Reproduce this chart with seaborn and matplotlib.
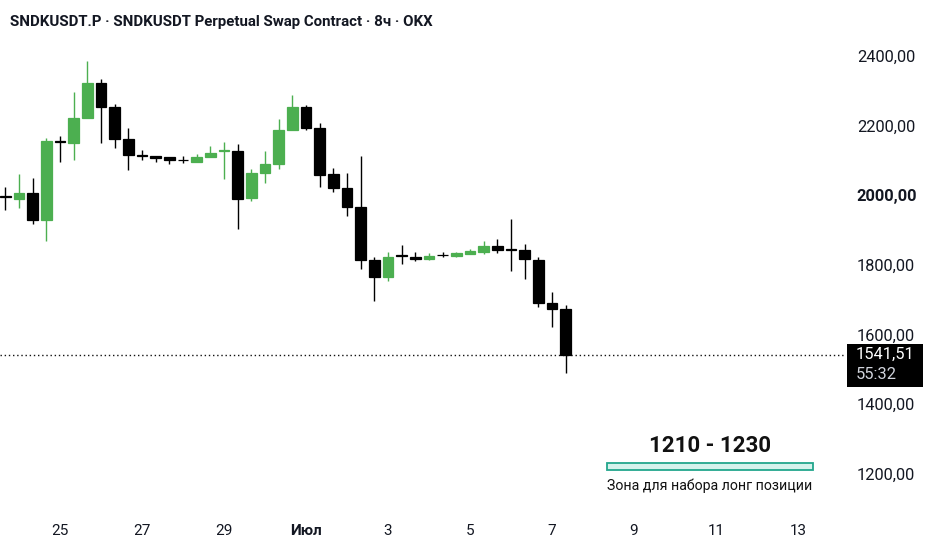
import numpy as np
import pandas as pd
import matplotlib
matplotlib.use("Agg")
import matplotlib.pyplot as plt
import matplotlib.dates as mdates
from matplotlib.patches import Rectangle
from matplotlib.transforms import blended_transform_factory
import seaborn as sns

# 8h candles, SNDKUSDT.P (OKX)
start_time = "2025-06-23 16:00"
opens = [1996, 1989, 2005, 1928, 2156, 2150, 2222, 2322, 2253, 2161, 2115, 2112, 2108, 2102,
         2095, 2109, 2126, 2126, 1992, 2063, 2089, 2188, 2252, 2193, 2059, 2019, 1965, 1814,
         1764, 1827, 1823, 1816, 1829, 1826, 1832, 1837, 1855, 1844, 1842, 1814, 1691, 1672]
highs = [2024, 2060, 2050, 2163, 2170, 2296, 2385, 2332, 2260, 2191, 2129, 2112, 2110, 2112,
         2118, 2142, 2152, 2146, 2074, 2127, 2217, 2287, 2258, 2208, 2077, 2062, 2113, 1823,
         1837, 1858, 1837, 1833, 1836, 1836, 1846, 1867, 1873, 1930, 1859, 1823, 1723, 1684]
lows = [1957, 1962, 1917, 1868, 2094, 2100, 2220, 2148, 2134, 2072, 2100, 2096, 2088, 2091,
        2094, 2109, 2047, 1902, 1983, 2035, 2074, 2188, 2188, 2022, 2008, 1941, 1787, 1696,
        1752, 1802, 1812, 1814, 1823, 1823, 1830, 1831, 1834, 1783, 1759, 1680, 1622, 1490]
closes = [1995, 2005, 1928, 2156, 2152, 2222, 2322, 2253, 2161, 2115, 2113, 2107, 2100, 2101,
          2108, 2121, 2128, 1990, 2063, 2089, 2188, 2252, 2193, 2058, 2019, 1965, 1814, 1764,
          1823, 1825, 1817, 1826, 1828, 1833, 1839, 1854, 1842, 1842, 1816, 1689, 1672, 1541.51]

last_price = 1541.51
countdown = "55:32"

tick_dates = ["2025-06-25", "2025-06-27", "2025-06-29", "2025-07-01", "2025-07-03",
              "2025-07-05", "2025-07-07", "2025-07-09", "2025-07-11", "2025-07-13"]
tick_labels = ["25", "27", "29", "Июл", "3", "5", "7", "9", "11", "13"]
price_ticks = [1200, 1400, 1600, 1800, 2000, 2200, 2400]

zone_low, zone_high = 1210, 1230
zone_start, zone_end = "2025-07-08 08:00", "2025-07-13 09:00"
zone_title = "1210 - 1230"
zone_note = "Зона для набора лонг позиции"

title = "SNDKUSDT.P · SNDKUSDT Perpetual Swap Contract · 8ч · OKX"

sns.set_style("white")
plt.rcParams["font.family"] = ["Roboto", "DejaVu Sans"]

GREEN = "#4caf50"
BLACK = "#000000"

df = pd.DataFrame({"time": pd.date_range(start_time, periods=len(opens), freq="8h"),
                   "open": opens, "high": highs, "low": lows, "close": closes})
df["x"] = mdates.date2num(df["time"])
df["up"] = df["close"] >= df["open"]
df["color"] = np.where(df["up"], GREEN, BLACK)

fig = plt.figure(figsize=(9.32, 5.5), dpi=100)
ax = fig.add_axes([0.0, 40 / 550, 845 / 932, 470 / 550])

# wicks + bodies
ax.vlines(df["x"], df["low"], df["high"], colors=df["color"], linewidth=1.0, zorder=2)
body_low = np.minimum(df["open"], df["close"])
body_h = np.abs(df["close"] - df["open"])
ax.bar(df["x"], body_h, bottom=body_low, width=0.26, color=df["color"],
       edgecolor=df["color"], linewidth=0.9, zorder=3)

# last price line
ax.axhline(last_price, color="#111111", linewidth=1.0, linestyle=(0, (1, 2)), zorder=1)

# long entry zone
zx0 = mdates.date2num(pd.Timestamp(zone_start))
zx1 = mdates.date2num(pd.Timestamp(zone_end))
ax.add_patch(Rectangle((zx0, zone_low), zx1 - zx0, zone_high - zone_low,
                       facecolor="#d5f2ec", edgecolor="#22a68c", linewidth=1.3, zorder=2))
zmid = (zx0 + zx1) / 2
ax.text(zmid, 1281, zone_title, ha="center", va="center", fontsize=16,
        fontweight="bold", color="#111111")
ax.text(zmid, 1166, zone_note, ha="center", va="center", fontsize=10.2, color="#111111")

base = mdates.date2num(pd.Timestamp("2025-06-25"))
ax.set_xlim(base - 1.463, base + 19.15)
ax.set_ylim(1096, 2445)

ax.set_xticks(mdates.date2num(pd.to_datetime(tick_dates)))
ax.set_xticklabels(tick_labels)
ax.set_yticks(price_ticks)
ax.set_yticklabels([f"{p:.2f}".replace(".", ",") for p in price_ticks])
ax.yaxis.tick_right()
ax.tick_params(axis="y", length=0, pad=8.5, labelsize=11.8, labelcolor="#131722")
ax.tick_params(axis="x", length=0, pad=10, labelsize=11, labelcolor="#131722")
for lab in ax.get_xticklabels():
    if lab.get_text() == "Июл":
        lab.set_fontweight("bold")
for lab in ax.get_yticklabels():
    if lab.get_text() == "2000,00":
        lab.set_fontweight("bold")
sns.despine(ax=ax, left=True, bottom=True, right=True, top=True)
ax.grid(False)

# price tag on the scale
tr = blended_transform_factory(ax.transAxes, ax.transData)
ax.add_patch(Rectangle((847 / 845, 1449), (923 - 847) / 845, 1572.5 - 1449,
                       transform=tr, facecolor="#000000", edgecolor="none",
                       clip_on=False, zorder=5))
ax.text(856 / 845, last_price, f"{last_price:.2f}".replace(".", ","), transform=tr,
        ha="left", va="center", fontsize=11.8, color="white", clip_on=False, zorder=6)
ax.text(856 / 845, 1486, countdown, transform=tr, ha="left", va="center",
        fontsize=11.8, color="#d1d4dc", clip_on=False, zorder=6)

fig.text(10 / 932, 1 - 22 / 550, title, ha="left", va="center", fontsize=10.8,
         fontweight="bold", color="#131722")

fig.savefig("out.png", dpi=100, facecolor="white")
